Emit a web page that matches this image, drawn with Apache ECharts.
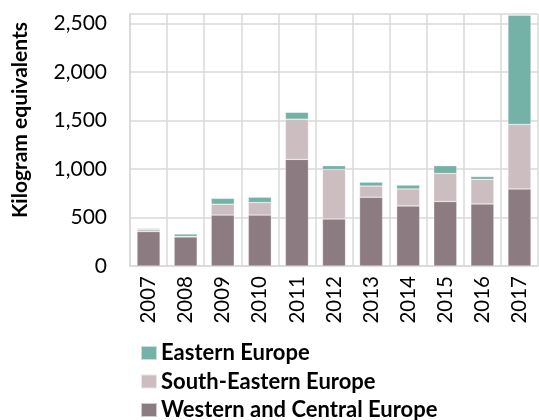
<!DOCTYPE html>
<html><head><meta charset="utf-8">
<script src="https://cdn.jsdelivr.net/npm/echarts@6/dist/echarts.min.js"></script>
<style>html,body{margin:0;padding:0;background:#fff}#c{width:539px;height:420px}</style>
</head><body><div id="c"></div>
<script>
const categories = ['2007','2008','2009','2010','2011','2012','2013','2014','2015','2016','2017'];
const westernCentral = [355, 300, 525, 525, 1100, 485, 710, 620, 665, 640, 795];
const southEastern   = [22, 5, 113, 130, 415, 510, 115, 175, 290, 255, 665];
const eastern        = [10, 25, 60, 55, 70, 40, 40, 40, 80, 28, 1128];
const yTicks = [0, 500, 1000, 1500, 2000, 2500];
const seriesNames = ['Western and Central Europe', 'South-Eastern Europe', 'Eastern Europe'];
const colors = ['#8c7b81', '#ccbdc1', '#74b1a6'];

const font = 'Lato, "Open Sans", sans-serif';
const chart = echarts.init(document.getElementById('c'), null, {renderer:'canvas'});
const mk = (name, data, color) => ({
  name, type:'bar', stack:'t', data, barWidth:23,
  itemStyle:{color, borderColor:'rgba(255,255,255,0.6)', borderWidth:0.5},
  emphasis:{disabled:true}
});
chart.setOption({
  animation:false,
  grid:{left:130, right:1, top:14, bottom:154},
  legend:{
    orient:'vertical', left:140, top:342, width:400, height:90, padding:0,
    itemWidth:16, itemHeight:14, itemGap:6.5,
    icon:'rect',
    data:[seriesNames[2], seriesNames[1], seriesNames[0]],
    textStyle:{fontFamily:font, fontWeight:'bold', fontSize:22, lineHeight:22, color:'#000', padding:[0,0,0,-1]}
  },
  xAxis:{
    type:'category', data:categories,
    axisLine:{show:true, lineStyle:{color:'#d9d9d9', width:1.5}},
    axisTick:{show:false},
    splitLine:{show:true, lineStyle:{color:'#d9d9d9', width:1.5}},
    axisLabel:{rotate:90, margin:10, fontFamily:font, fontSize:20.5, color:'#000', interval:0}
  },
  yAxis:{
    type:'value', min:0, max:2600, interval:500,
    axisLine:{show:true, lineStyle:{color:'#d9d9d9', width:1.5}},
    axisTick:{show:false},
    splitLine:{show:true, lineStyle:{color:'#d9d9d9', width:1.5}},
    axisLabel:{
      margin:23, fontFamily:font, fontSize:21, color:'#000',
      formatter: v => yTicks.includes(v) ? v.toLocaleString('en-US') : ''
    }
  },
  graphic:[{
    type:'text', left:10, top:22, rotation:Math.PI/2, origin:[0,0],
    style:{text:'Kilogram equivalents', font:'bold 21px ' + font, fill:'#000'}
  }],
  series:[
    mk(seriesNames[0], westernCentral, colors[0]),
    mk(seriesNames[1], southEastern, colors[1]),
    mk(seriesNames[2], eastern, colors[2])
  ]
});
</script></body></html>
